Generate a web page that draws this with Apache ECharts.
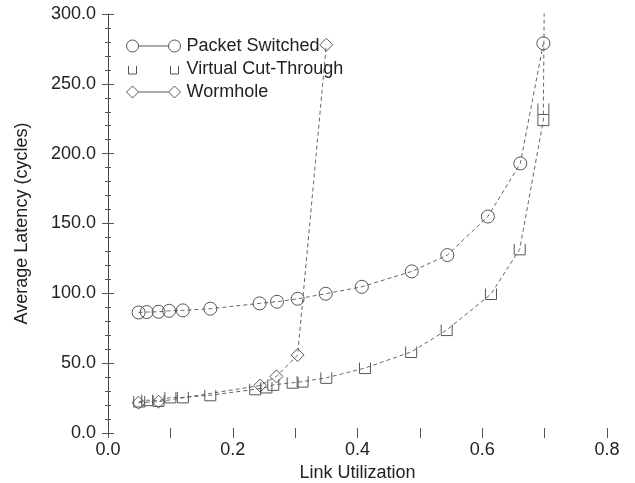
<!DOCTYPE html>
<html>
<head>
<meta charset="utf-8">
<script src="https://cdn.jsdelivr.net/npm/echarts@6/dist/echarts.min.js"></script>
<style>html,body{margin:0;padding:0;background:#fff}#c{width:635px;height:483px}</style>
</head>
<body>
<div id="c"></div>
<script>
// Data
const psX  = [0.049, 0.062, 0.081, 0.098, 0.120, 0.164, 0.243, 0.271, 0.304, 0.349, 0.407, 0.487, 0.544, 0.609, 0.661, 0.698];
const psY  = [86.3, 86.6, 86.8, 87.5, 87.8, 89.0, 92.8, 94.0, 96.1, 99.7, 104.7, 115.7, 127.4, 155.0, 193.0, 279.0];
const vctX = [0.050, 0.063, 0.081, 0.100, 0.120, 0.164, 0.236, 0.254, 0.265, 0.296, 0.312, 0.350, 0.412, 0.486, 0.543, 0.614, 0.660, 0.698, 0.698, 0.700];
const vctY = [22.5, 23.5, 23.0, 25.5, 25.5, 27.0, 31.3, 32.6, 34.5, 36.0, 36.8, 39.5, 46.5, 58.0, 73.7, 99.5, 131.5, 224.0, 232.0, 340.0];
const whX  = [0.049, 0.081, 0.244, 0.270, 0.304, 0.350];
const whY  = [21.7, 22.4, 34.0, 40.5, 55.8, 278.0];
const seriesNames = ['Packet Switched', 'Virtual Cut-Through', 'Wormhole'];
const xTicks = [0.0, 0.2, 0.4, 0.6, 0.8];
const yTicks = [0, 50, 100, 150, 200, 250, 300];

const zip = (xs, ys) => xs.map((x, i) => [x, ys[i]]);
const ink = '#555';
const txt = '#222';
const font = 'Liberation Sans, Arial, Helvetica, sans-serif';
const fs = 18;

const cupPath = 'path://M0,0L0,10L10,10L10,0';
const icons = [
  'path://M0,6a6,6 0 1,0 12,0a6,6 0 1,0 -12,0M12,6L42,6M42,6a6,6 0 1,0 12,0a6,6 0 1,0 -12,0',
  'path://M2,3L2,11L10,11L10,3M44,3L44,11L52,11L52,3M0,0M54,12',
  'path://M0,6L6,0L12,6L6,12ZM12,6L42,6M42,6L48,0L54,6L48,12Z'
];

function xAxisCfg(pos, labels) {
  return {
    type: 'value', position: pos, min: xTicks[0], max: xTicks[xTicks.length - 1], interval: 0.2,
    axisLine: { show: false },
    splitLine: { show: false },
    axisTick: { show: true, inside: true, length: 5, lineStyle: { color: ink } },
    minorTick: { show: true, splitNumber: 2, length: 5, lineStyle: { color: ink } },
    axisLabel: { show: labels, formatter: v => v.toFixed(1), fontSize: fs, color: txt, fontFamily: font, margin: 8 },
    name: labels ? 'Link Utilization' : '', nameLocation: 'middle', nameGap: 28,
    nameTextStyle: { fontSize: fs, color: txt, fontFamily: font }
  };
}
function yAxisCfg(pos, labels) {
  return {
    type: 'value', position: pos, min: yTicks[0], max: yTicks[yTicks.length - 1], interval: 50,
    axisLine: { show: labels, lineStyle: { color: '#444', width: 1 } },
    splitLine: { show: false },
    axisTick: { show: true, inside: true, length: 6, lineStyle: { color: ink } },
    minorTick: { show: true, splitNumber: 5, length: 3, lineStyle: { color: ink } },
    axisLabel: { show: labels, formatter: v => v.toFixed(1), fontSize: fs, color: txt, fontFamily: font, margin: 12 },
    name: labels ? 'Average Latency (cycles)' : '', nameLocation: 'middle', nameGap: 77, nameRotate: 90,
    nameTextStyle: { fontSize: fs, color: txt, fontFamily: font }
  };
}

const chart = echarts.init(document.getElementById('c'), null, { renderer: 'canvas' });
const symStyle = { color: 'transparent', borderColor: ink, borderWidth: 1 };
chart.setOption({
  backgroundColor: '#fff',
  animation: false,
  grid: { left: 108, right: 28, top: 14, bottom: 50, containLabel: false, outerBoundsMode: 'none' },
  xAxis: [xAxisCfg('bottom', true), xAxisCfg('top', false)],
  yAxis: [yAxisCfg('left', true), yAxisCfg('right', false)],
  legend: {
    orient: 'vertical', left: 121, top: 32, itemWidth: 56, itemHeight: 12, itemGap: 5,
    textStyle: { fontSize: fs, color: txt, fontFamily: font },
    itemStyle: { color: 'transparent', borderColor: ink, borderWidth: 1 },
    data: seriesNames.map((n, i) => ({ name: n, icon: icons[i] }))
  },
  series: [
    {
      name: seriesNames[0], type: 'line', data: zip(psX, psY),
      symbol: 'circle', symbolSize: 13, itemStyle: symStyle,
      lineStyle: { color: ink, width: 0.9, type: [4, 3] }, clip: true
    },
    {
      name: seriesNames[1], type: 'line', data: zip(vctX, vctY),
      symbol: cupPath, symbolSize: 11, itemStyle: symStyle,
      lineStyle: { color: ink, width: 0.9, type: [4, 3] }, clip: true
    },
    {
      name: seriesNames[2], type: 'line', data: zip(whX, whY),
      symbol: 'diamond', symbolSize: 13, itemStyle: symStyle,
      lineStyle: { color: ink, width: 0.9, type: [4, 3] }, clip: true
    }
  ]
});
</script>
</body>
</html>
